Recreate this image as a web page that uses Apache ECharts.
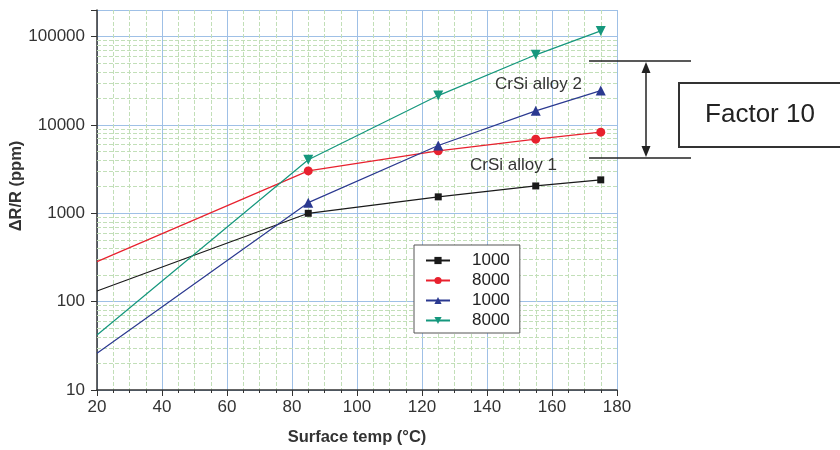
<!DOCTYPE html>
<html>
<head>
<meta charset="utf-8">
<script src="https://cdn.jsdelivr.net/npm/echarts@6/dist/echarts.min.js"></script>
<style>
  html, body { margin: 0; padding: 0; background: #fff; }
  #chart { width: 840px; height: 450px; }
</style>
</head>
<body>
<div id="chart"></div>
<script>
// surface temperature (°C) for each measured point
var temps = [20, 85, 125, 155, 175];
// ΔR/R (ppm)
var alloy1_1000 = [132, 1000, 1535, 2040, 2390];
var alloy1_8000 = [284, 3020, 5090, 6900, 8280];
var alloy2_1000 = [26, 1320, 5850, 14450, 24500];
var alloy2_8000 = [42, 4030, 21500, 62200, 116000];

var seriesNames = ['alloy1 1000', 'alloy1 8000', 'alloy2 1000', 'alloy2 8000'];

// 2..9 lines of each decade for the log grid
var decades = [10, 100, 1000, 10000, 100000];
var minorY = [];
decades.forEach(function (d) {
  for (var m = 2; m <= 9; m++) {
    if (d * m < 200000) minorY.push(d * m);
  }
});

var font = 'Liberation Sans, Arial, sans-serif';

function pts(vals) {
  // first point (20 °C) is the extrapolated start of the line, no marker
  return temps.map(function (t, i) {
    var p = { value: [t, vals[i]] };
    if (i === 0) p.symbol = 'none';
    return p;
  });
}

function mkSeries(name, vals, color, symbol, size, rotate) {
  return {
    name: name,
    type: 'line',
    data: pts(vals),
    symbol: symbol,
    symbolSize: size,
    symbolRotate: rotate || 0,
    showAllSymbol: true,
    lineStyle: { color: color, width: 1.2 },
    itemStyle: { color: color },
    z: 3
  };
}

var myChart = echarts.init(document.getElementById('chart'));

var option = {
  animation: false,
  backgroundColor: '#fff',
  grid: { left: 97, right: 223, top: 10, bottom: 60, outerBoundsMode: 'none' },
  legend: {
    data: seriesNames,
    left: 414,
    top: 245,
    orient: 'vertical',
    itemWidth: 24,
    itemHeight: 9,
    itemGap: 3,
    padding: [7, 10, 4, 11],
    borderColor: '#555',
    borderWidth: 1,
    borderRadius: 0,
    backgroundColor: '#fff',
    selectedMode: false,
    formatter: function (name) { return name.split(' ')[1]; },
    textStyle: { fontFamily: font, fontSize: 17, color: '#222', padding: [0, 0, 0, 17] }
  },
  xAxis: {
    type: 'value',
    min: 20,
    max: 180,
    interval: 20,
    name: 'Surface temp (°C)',
    nameLocation: 'middle',
    nameGap: 39,
    nameMoveOverlap: false,
    nameTextStyle: { fontFamily: font, fontSize: 16.5, fontWeight: 'bold', color: '#333' },
    axisLine: { lineStyle: { color: '#333', width: 1.5 } },
    axisTick: { length: 6, lineStyle: { color: '#333' } },
    minorTick: { show: true, splitNumber: 4, length: 3, lineStyle: { color: '#333' } },
    axisLabel: { fontFamily: font, fontSize: 17, color: '#333', margin: 9 },
    splitLine: { lineStyle: { color: '#9fc0e6', width: 1 } },
    minorSplitLine: { show: true, lineStyle: { color: '#c2dfb8', type: 'dashed', width: 1 } }
  },
  yAxis: {
    type: 'log',
    logBase: 10,
    min: 10,
    max: 200000,
    name: 'ΔR/R (ppm)',
    nameLocation: 'middle',
    nameGap: 72,
    nameMoveOverlap: false,
    nameTextStyle: { fontFamily: font, fontSize: 16.5, fontWeight: 'bold', color: '#333', padding: [0, 0, 0, 28] },
    axisLine: { show: true, lineStyle: { color: '#333', width: 1.5 } },
    axisTick: { show: true, length: 6, lineStyle: { color: '#333' } },
    axisLabel: {
      fontFamily: font, fontSize: 17, color: '#333', margin: 12,
      formatter: function (v) {
        var l = Math.log(v) / Math.LN10;
        return Math.abs(l - Math.round(l)) < 1e-6 ? String(Math.round(v)) : '';
      }
    },
    splitLine: { lineStyle: { color: '#9fc0e6', width: 1 } }
  },
  series: [
    {
      name: 'grid',
      type: 'line',
      data: [],
      silent: true,
      z: 1,
      markLine: {
        z: 1,
        silent: true,
        symbol: 'none',
        label: { show: false },
        lineStyle: { color: '#c2dfb8', type: 'dashed', width: 1 },
        data: minorY.map(function (v) { return { yAxis: v }; })
      }
    },
    {
      // short minor ticks on the left of the log axis
      name: 'ticks',
      type: 'line',
      data: [],
      silent: true,
      clip: false,
      z: 1,
      markLine: {
        z: 1,
        silent: true,
        symbol: 'none',
        label: { show: false },
        lineStyle: { color: '#333', type: 'solid', width: 1 },
        data: minorY.map(function (v) { return [{ coord: [18.9, v] }, { coord: [20, v] }]; })
      }
    },
    mkSeries(seriesNames[0], alloy1_1000, '#1a1a1a', 'rect', 7),
    mkSeries(seriesNames[1], alloy1_8000, '#e8212e', 'circle', 9),
    mkSeries(seriesNames[2], alloy2_1000, '#2b3990', 'triangle', 10),
    mkSeries(seriesNames[3], alloy2_8000, '#15977d', 'triangle', 10, 180)
  ],
  graphic: [
    { type: 'text', left: 495, top: 76, z: 10,
      style: { text: 'CrSi alloy 2', font: '17px ' + font, fill: '#333' } },
    { type: 'text', left: 470, top: 157, z: 10,
      style: { text: 'CrSi alloy 1', font: '17px ' + font, fill: '#333' } },
    { type: 'line', z: 10, shape: { x1: 589, y1: 61, x2: 691, y2: 61 },
      style: { stroke: '#222', lineWidth: 1.5 } },
    { type: 'line', z: 10, shape: { x1: 589, y1: 158, x2: 691, y2: 158 },
      style: { stroke: '#222', lineWidth: 1.5 } },
    { type: 'line', z: 10, shape: { x1: 646, y1: 66, x2: 646, y2: 153 },
      style: { stroke: '#222', lineWidth: 1.5 } },
    { type: 'polygon', z: 10, shape: { points: [[646, 62], [641.5, 73], [650.5, 73]] },
      style: { fill: '#222' } },
    { type: 'polygon', z: 10, shape: { points: [[646, 157], [641.5, 146], [650.5, 146]] },
      style: { fill: '#222' } },
    { type: 'rect', z: 10, shape: { x: 679, y: 83, width: 180, height: 64 },
      style: { fill: '#fff', stroke: '#333', lineWidth: 2 } },
    { type: 'text', z: 11, x: 760, y: 115,
      style: { text: 'Factor 10', font: '26px ' + font, fill: '#222', align: 'center', verticalAlign: 'middle' } }
  ]
};

myChart.setOption(option);
</script>
</body>
</html>
